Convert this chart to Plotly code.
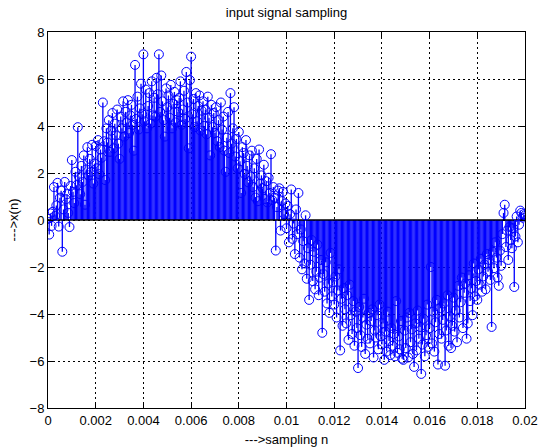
import numpy as np
import plotly.graph_objects as go

# sampling: 401 samples at 20 kHz over one 50 Hz period
fs = 20000.0
x_n = [
    0.05, -0.62, 0.28, -0.25, 0.35, 1.40, 0.18, 0.62, 1.58, -0.28,
    0.95, 1.25, -1.35, 0.45, 1.62, 0.88, 1.10, 0.30, -0.30, 1.45,
    2.55, 1.20, 0.72, 2.05, 1.48, 3.95, 1.85, 1.10, 2.30, 1.62,
    2.75, 0.65, 2.15, 3.10, 1.90, 2.60, 2.05, 3.20, 1.55, 2.40,
    3.15, 2.20, 3.40, 1.95, 3.00, 2.65, 5.00, 3.35, 1.70, 3.90,
    3.30, 4.25, 2.90, 3.80, 4.55, 3.05, 4.10, 3.60, 4.70, 3.25,
    2.60, 4.40, 3.90, 5.05, 3.55, 4.60, 4.15, 5.10, 3.70, 4.45,
    4.90, 4.05, 2.95, 6.60, 4.30, 5.25, 3.85, 4.75, 5.80, 4.50,
    7.05, 4.20, 5.55, 3.90, 4.85, 5.40, 4.10, 5.90, 4.45, 5.20,
    4.40, 6.05, 5.35, 7.05, 4.60, 6.15, 5.05, 4.25, 3.55, 5.60,
    4.80, 5.30, 4.35, 5.75, 3.90, 4.95, 5.45, 4.15, 5.10, 4.60,
    5.20, 5.90, 4.05, 4.70, 5.50, 4.30, 6.30, 5.00, 3.05, 5.95,
    6.95, 4.50, 5.15, 3.95, 5.40, 4.20, 4.85, 5.30, 3.80, 4.65,
    5.05, 4.00, 4.70, 3.65, 5.25, 4.35, 2.75, 4.90, 3.95, 4.55,
    3.70, 4.80, 3.35, 4.25, 3.10, 5.00, 3.85, 4.40, 2.95, 2.05,
    3.50, 4.60, 2.85, 5.40, 3.25, 3.90, 4.80, 2.70, 3.45, 2.20,
    3.75, 2.50, 1.15, 3.10, 2.85, 1.95, 3.40, 2.30, 1.60, 2.75,
    1.85, 2.95, 1.40, 2.20, 0.95, 2.60, 0.80, 3.00, 1.55, 1.90,
    1.35, 2.35, 0.90, 1.65, 0.75, 1.80, 1.15, 2.80, 0.85, 1.40,
    0.95, -1.30, 0.55, 1.25, 1.35, -0.45, 0.80, 1.20, 0.25, 0.70,
    -0.35, 0.60, -0.95, 0.25, 1.30, -0.80, -0.15, -1.45, 0.45, -0.60,
    1.15, -1.60, -0.40, -2.10, -0.90, -1.85, 0.20, -2.50, -1.20, -3.40,
    -1.90, -0.85, -2.60, -1.35, -2.95, -2.20, -1.05, -3.20, -2.45, -1.70,
    -4.80, -2.30, -3.05, -1.80, -3.55, -2.70, -3.95, -1.40, -3.25, -2.65,
    -3.60, -2.40, -4.15, -3.00, -2.10, -5.55, -3.35, -4.50, -2.90, -3.80,
    -4.40, -3.20, -5.10, -2.75, -4.05, -4.85, -3.45, -5.35, -3.90, -4.60,
    -6.30, -3.70, -4.90, -5.40, -4.15, -3.35, -5.70, -4.45, -5.05, -3.95,
    -5.25, -4.30, -3.80, -5.85, -4.70, -5.00, -4.05, -5.50, -3.60, -4.95,
    -5.30, -4.40, -5.95, -4.75, -5.60, -3.90, -5.15, -5.75, -4.60, -5.35,
    -4.85, -5.80, -3.45, -5.65, -4.95, -5.50, -4.30, -5.90, -5.95, -4.70,
    -5.45, -4.15, -5.85, -3.95, -5.20, -4.65, -5.70, -6.25, -4.40, -5.55,
    -3.85, -5.05, -4.55, -6.55, -5.30, -4.20, -5.80, -4.90, -3.60, -5.40,
    -4.60, -2.00, -5.25, -3.90, -5.60, -4.35, -3.40, -6.15, -4.85, -3.75,
    -5.05, -4.25, -3.55, -6.20, -4.70, -3.20, -5.35, -4.10, -5.45, -4.50,
    -3.30, -4.75, -3.85, -5.20, -2.80, -4.15, -3.50, -2.45, -4.60, -3.10,
    -2.70, -5.05, -4.40, -2.35, -3.45, -2.90, -4.05, -1.85, -3.25, -2.60,
    -3.40, -2.10, -2.75, -1.65, -3.05, -2.40, -1.90, -2.95, -1.45, -2.20,
    -1.70, -2.55, -4.55, -1.35, -2.05, -0.95, -1.60, -2.45, -2.80, -1.30,
    -1.95, -0.60, 0.30, 0.65, -1.15, -0.45, -1.70, -0.30, -0.85, -1.20,
    -0.35, -2.85, -0.70, 0.15, -0.95, -0.20, 0.40, 0.30, 0.10, 0.25,
    0.20,
]
t = np.arange(len(x_n)) / fs

x_ticks = [0, 0.002, 0.004, 0.006, 0.008, 0.01, 0.012, 0.014, 0.016, 0.018, 0.02]
x_tick_text = ["0", "0.002", "0.004", "0.006", "0.008", "0.01", "0.012", "0.014", "0.016", "0.018", "0.02"]
y_ticks = [-8, -6, -4, -2, 0, 2, 4, 6, 8]

blue = "rgb(0,0,255)"

# stems: one vertical segment per sample from the baseline
sx, sy = [], []
for ti, vi in zip(t, x_n):
    sx += [ti, ti, None]
    sy += [0, vi, None]

fig = go.Figure()
fig.add_trace(go.Scatter(x=sx, y=sy, mode="lines",
                         line=dict(color=blue, width=1.3), hoverinfo="skip"))
# baseline
fig.add_trace(go.Scatter(x=[0, 0.02], y=[0, 0], mode="lines",
                         line=dict(color="black", width=1.5), hoverinfo="skip"))
fig.add_trace(go.Scatter(x=t, y=x_n, mode="markers",
                         marker=dict(symbol="circle-open", size=9,
                                     line=dict(color=blue, width=1), color=blue)))

font = dict(family="Liberation Sans, Arial, sans-serif", size=13, color="black")
axis_common = dict(showline=True, linecolor="black", linewidth=1, mirror="ticks",
                   ticks="inside", ticklen=5, tickcolor="black",
                   showgrid=True, gridcolor="black", gridwidth=1, griddash="2px,3px",
                   zeroline=False, tickfont=font, automargin=False)

fig.update_layout(
    width=541, height=448,
    margin=dict(l=48, r=16, t=32, b=40),
    paper_bgcolor="white", plot_bgcolor="white",
    showlegend=False,
    font=font,
    title=dict(text="input signal sampling", x=0.5, xanchor="center",
               xref="paper", y=1, yref="container", yanchor="top", pad=dict(t=8),
               font=dict(family="Liberation Sans, Arial, sans-serif", size=13, color="black")),
    xaxis=dict(range=[0, 0.02], tickvals=x_ticks, ticktext=x_tick_text,
               title=dict(text="--->sampling n", standoff=8, font=font), **axis_common),
    yaxis=dict(range=[-8, 8], tickvals=y_ticks,
               title=dict(text="--->x(n)", standoff=8, font=font), **axis_common),
)

fig.write_html("out.html")
